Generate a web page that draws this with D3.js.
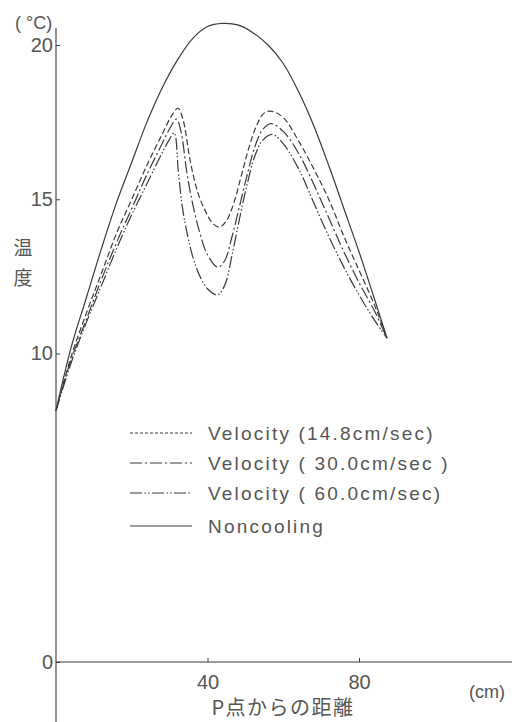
<!DOCTYPE html>
<html>
<head>
<meta charset="utf-8">
<style>
  body { margin: 0; background: #fff; }
  svg text { font-family: "Liberation Sans", "Noto Sans CJK JP", sans-serif; fill: #555; }
  .jp { font-family: "Noto Sans CJK JP", sans-serif; }
</style>
<title>温度分布</title>
</head>
<body>
<svg id="graph"></svg>
<script src="https://cdn.jsdelivr.net/npm/d3@7"></script>
<script>

// distance from P (cm), temperature (°C)
var noncooling = [[0,8.15],[4,10.2],[8,11.8],[12,13.4],[16,14.9],[20,16.2],[24,17.5],[28,18.6],
  [32,19.5],[36,20.2],[40,20.6],[44,20.7],[48,20.65],[52,20.4],[56,20.0],[60,19.4],[64,18.5],
  [68,17.4],[72,16.1],[76,14.7],[80,13.3],[84,11.8],[87.4,10.5]];

var vel148 = [[0,8.15],[4,9.9],[8,11.3],[12,12.6],[16,13.9],[20,15.0],[24,16.1],[28,17.1],
  [30.5,17.7],[32.2,17.95],[33.5,17.6],[35.5,16.2],[37.5,15.2],[39.5,14.6],[41.5,14.2],[43.2,14.1],
  [45,14.3],[47,14.9],[49,15.8],[51,16.7],[53,17.4],[55,17.8],[57,17.85],[60,17.65],[64,16.9],
  [68,16.0],[72,15.0],[76,13.8],[80,12.7],[84,11.6],[87.4,10.5]];

var vel300 = [[0,8.15],[4,9.8],[8,11.1],[12,12.4],[16,13.6],[20,14.7],[24,15.8],[28,16.8],
  [30.3,17.35],[31.8,17.6],[33,17.2],[34.5,15.9],[36,14.9],[38,13.9],[40,13.2],[42.7,12.8],
  [44.5,13.0],[46.5,13.8],[48.5,14.8],[50.5,15.8],[52.5,16.7],[54.5,17.25],[56.8,17.45],[60,17.2],
  [64,16.5],[68,15.5],[72,14.4],[76,13.3],[80,12.3],[84,11.4],[87.4,10.5]];

var vel600 = [[0,8.15],[4,9.7],[8,11.0],[12,12.2],[16,13.4],[20,14.5],[24,15.5],[28,16.5],
  [30,16.95],[31.2,17.15],[32.3,15.9],[33.3,14.8],[34.6,13.9],[36.2,13.1],[38,12.5],[40,12.1],
  [42.6,11.9],[44.5,12.2],[46.5,13.2],[48.5,14.4],[50.5,15.5],[52.5,16.4],[54.5,16.9],[57.2,17.1],
  [60,16.8],[64,16.0],[68,14.9],[72,13.8],[76,12.8],[80,11.9],[84,11.1],[87.4,10.5]];

var yTicks = [0, 10, 15, 20];
var xTicks = [40, 80];
var legendLabels = ["Velocity (14.8cm/sec)", "Velocity ( 30.0cm/sec )", "Velocity ( 60.0cm/sec)", "Noncooling"];

var width = 523, height = 722;

var x = d3.scaleLinear().domain([0, 80]).range([56, 359]);
var y = d3.scaleLinear().domain([0, 20]).range([662, 45]);

var svg = d3.select('#graph')
    .attr('width', width)
    .attr('height', height);

var ink = "#3a3a3a";

// axes lines (extend past the tick range like the original)
svg.append('line')
    .attr('x1', x(0)).attr('x2', x(0))
    .attr('y1', 28).attr('y2', height)
    .attr('stroke', ink).attr('stroke-width', 1.1);
svg.append('line')
    .attr('x1', x(0)).attr('x2', 512)
    .attr('y1', y(0)).attr('y2', y(0))
    .attr('stroke', ink).attr('stroke-width', 1.1);

var yaxis = svg.append('g')
    .attr('transform', 'translate(' + x(0) + ',0)')
    .call(d3.axisLeft(y).tickValues(yTicks).tickSize(-4).tickPadding(3).tickFormat(d3.format('d')));
var xaxis = svg.append('g')
    .attr('transform', 'translate(0,' + y(0) + ')')
    .call(d3.axisBottom(x).tickValues(xTicks).tickSize(-4).tickPadding(13).tickFormat(d3.format('d')));

[yaxis, xaxis].forEach(function(a) {
  a.select('.domain').remove();
  a.selectAll('line').attr('stroke', ink);
  a.selectAll('text').attr('font-size', 20).attr('fill', '#555')
    .style('font-family', '"Liberation Sans", sans-serif');
});

// axis titles
svg.append('text').attr('x', 15).attr('y', 29).attr('font-size', 18).text('( °C)');
svg.append('text').attr('x', 469).attr('y', 698).attr('font-size', 18).text('(cm)');
svg.append('text').attr('class', 'jp').attr('x', 23).attr('y', 255)
    .attr('font-size', 19).attr('text-anchor', 'middle').text('温');
svg.append('text').attr('class', 'jp').attr('x', 23).attr('y', 285)
    .attr('font-size', 19).attr('text-anchor', 'middle').text('度');
svg.append('text').attr('class', 'jp').attr('x', 283).attr('y', 715)
    .attr('font-size', 20).attr('letter-spacing', 1.5).attr('text-anchor', 'middle').text('P点からの距離');

var line = d3.line()
    .x(d => x(d[0]))
    .y(d => y(d[1]))
    .curve(d3.curveCatmullRom.alpha(0.5));

var series = [
  { data: vel148, dash: "6,3" },
  { data: vel300, dash: "12,3,2,3" },
  { data: vel600, dash: "12,2.5,1.5,2,1.5,2.5" },
  { data: noncooling, dash: null }
];

svg.selectAll('.curve')
  .data(series)
  .enter().append('path')
    .attr('class', 'curve')
    .attr('d', d => line(d.data))
    .attr('fill', 'none')
    .attr('stroke', ink)
    .attr('stroke-width', 1.2)
    .attr('stroke-dasharray', d => d.dash);

// legend
var legend = svg.selectAll('.legend')
  .data(series)
  .enter().append('g')
    .attr('class', 'legend')
    .attr('transform', (d, i) => 'translate(130,' + [433, 463, 493, 526][i] + ')');

legend.append('line')
    .attr('x1', 0).attr('x2', 62)
    .attr('stroke', ink).attr('stroke-width', 1.1)
    .attr('stroke-dasharray', (d, i) => i == 0 ? "3,2" : d.dash);

legend.append('text')
    .attr('x', 78).attr('y', 7)
    .attr('font-size', 19)
    .attr('letter-spacing', 2.2)
    .style('white-space', 'pre')
    .text((d, i) => legendLabels[i]);

</script>
</body>
</html>
